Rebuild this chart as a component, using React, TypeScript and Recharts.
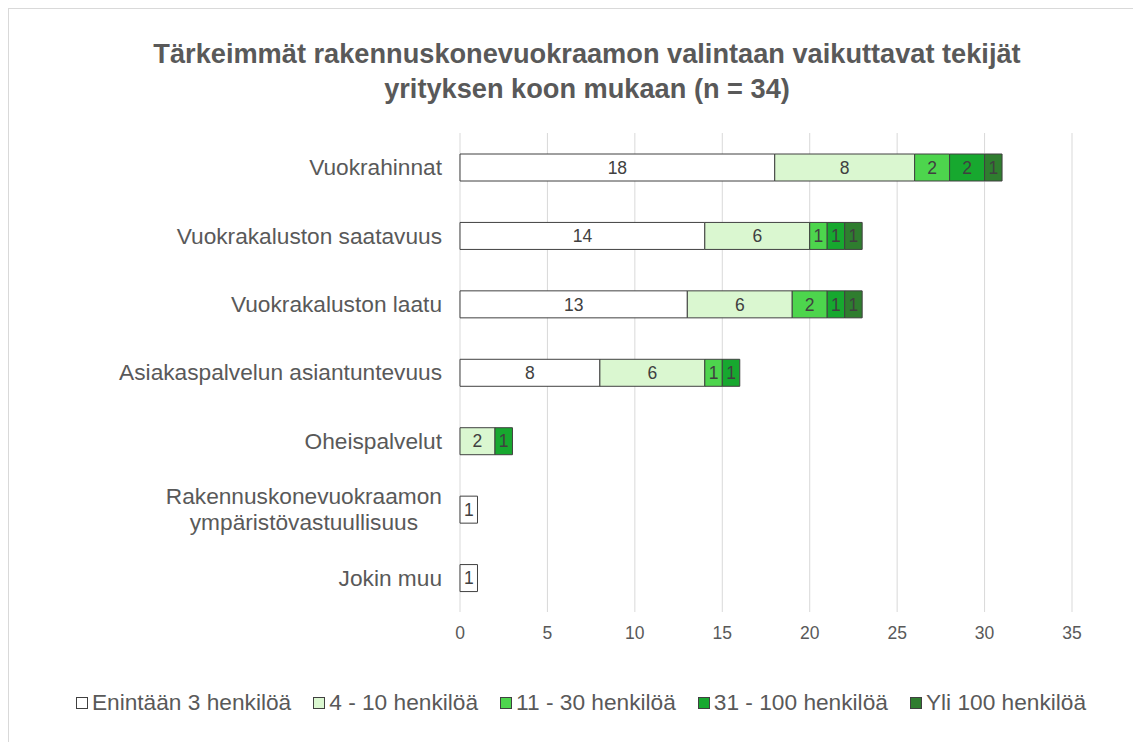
import React from 'react';
import { BarChart, Bar, XAxis, YAxis, CartesianGrid, LabelList } from 'recharts';

const CATEGORIES = [
  'Vuokrahinnat',
  'Vuokrakaluston saatavuus',
  'Vuokrakaluston laatu',
  'Asiakaspalvelun asiantuntevuus',
  'Oheispalvelut',
  'Rakennuskonevuokraamon\nympäristövastuullisuus',
  'Jokin muu',
];

const SERIES_NAMES = [
  'Enintään 3 henkilöä',
  '4 - 10 henkilöä',
  '11 - 30 henkilöä',
  '31 - 100 henkilöä',
  'Yli 100 henkilöä',
];

// null = no bar segment
const upTo3 = [18, 14, 13, 8, null, 1, 1];
const from4to10 = [8, 6, 6, 6, 2, null, null];
const from11to30 = [2, 1, 2, 1, null, null, null];
const from31to100 = [2, 1, 1, 1, 1, null, null];
const over100 = [1, 1, 1, null, null, null, null];

const X_TICKS = [0, 5, 10, 15, 20, 25, 30, 35];

const COLORS = ['#ffffff', '#daf7d0', '#4dd54d', '#17a82f', '#2f7d2f'];
const KEYS = ['s1', 's2', 's3', 's4', 's5'];

const data = CATEGORIES.map((name, i) => ({
  name,
  s1: upTo3[i],
  s2: from4to10[i],
  s3: from11to30[i],
  s4: from31to100[i],
  s5: over100[i],
}));

const FONT = '"Liberation Sans", Arial, sans-serif';
const TEXT = '#595959';
const CAT_SIZE = 22.7;

let canvas: HTMLCanvasElement | null = null;
const measure = (s: string, size: number) => {
  if (!canvas) canvas = document.createElement('canvas');
  const ctx = canvas.getContext('2d')!;
  ctx.font = `${size}px ${FONT}`;
  return ctx.measureText(s).width;
};

const CategoryTick = (props: any) => {
  const { x, y, payload } = props;
  const lines: string[] = String(payload.value).split('\n');
  if (lines.length === 1) {
    return (
      <text x={x} y={y} dy="0.35em" textAnchor="end" fill={TEXT} fontSize={CAT_SIZE} fontFamily={FONT}>
        {lines[0]}
      </text>
    );
  }
  const maxW = Math.max(...lines.map((l) => measure(l, CAT_SIZE)));
  const cx = x - maxW / 2;
  const lh = 26;
  const start = y - ((lines.length - 1) * lh) / 2;
  return (
    <text textAnchor="middle" fill={TEXT} fontSize={CAT_SIZE} fontFamily={FONT}>
      {lines.map((l, i) => (
        <tspan key={i} x={cx} y={start + i * lh} dy="0.35em">
          {l}
        </tspan>
      ))}
    </text>
  );
};

const Legend = () => (
  <div
    style={{
      position: 'absolute',
      left: 0,
      width: 1144,
      top: 680,
      display: 'flex',
      justifyContent: 'center',
      gap: 22,
      fontFamily: FONT,
      fontSize: CAT_SIZE,
      color: TEXT,
    }}
  >
    {SERIES_NAMES.map((n, i) => (
      <div key={n} style={{ display: 'flex', alignItems: 'center' }}>
        <span
          style={{
            display: 'inline-block',
            width: 10,
            height: 10,
            background: COLORS[i],
            border: '1px solid #404040',
            marginRight: 4,
          }}
        />
        <span>{n}</span>
      </div>
    ))}
  </div>
);

const App: React.FC = () => {
  return (
    <div
      style={{
        position: 'relative',
        width: 1140,
        height: 740,
        border: '1px solid #d9d9d9',
        background: '#fff',
        fontFamily: FONT,
      }}
    >
      <div
        style={{
          position: 'absolute',
          top: 27,
          left: 0,
          width: 1156,
          textAlign: 'center',
          fontSize: 27.2,
          fontWeight: 'bold',
          lineHeight: '35px',
          color: TEXT,
        }}
      >
        Tärkeimmät rakennuskonevuokraamon valintaan vaikuttavat tekijät
        <br />
        yrityksen koon mukaan (n = 34)
      </div>
      <BarChart
        width={1132}
        height={731}
        data={data}
        layout="vertical"
        margin={{ top: 124, right: 69, bottom: 98, left: 0 }}
        barSize={27}
      >
        <CartesianGrid horizontal={false} stroke="#d9d9d9" strokeWidth={1} />
        <XAxis
          type="number"
          domain={[0, 35]}
          ticks={X_TICKS}
          axisLine={false}
          tickLine={false}
          tickSize={0}
          tickMargin={15}
          height={30}
          tick={{ fill: TEXT, fontSize: 17.5, fontFamily: FONT }}
        />
        <YAxis
          type="category"
          dataKey="name"
          width={451}
          axisLine={false}
          tickLine={false}
          tickSize={0}
          tickMargin={18}
          tick={<CategoryTick />}
          interval={0}
        />
        {KEYS.map((k, i) => (
          <Bar
            key={k}
            dataKey={k}
            name={SERIES_NAMES[i]}
            stackId="a"
            fill={COLORS[i]}
            stroke="#404040"
            strokeWidth={1}
            isAnimationActive={false}
          >
            <LabelList
              dataKey={k}
              position="center"
              fill="#404040"
              fontSize={17.5}
              fontFamily={FONT}
            />
          </Bar>
        ))}
      </BarChart>
      <Legend />
    </div>
  );
};

export default App;
